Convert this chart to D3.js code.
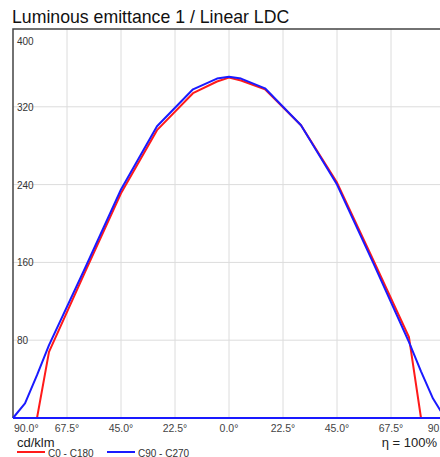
<!DOCTYPE html>
<html>
<head>
<meta charset="utf-8">
<script src="https://cdn.jsdelivr.net/npm/d3@7"></script>
<style>
  html, body { margin: 0; padding: 0; background: #fff; overflow: hidden; }
  svg { display: block; font-family: "Liberation Sans", Arial, sans-serif; }
</style>
</head>
<body>
<div id="chart"></div>
<script>
// gamma angles (deg), negative = left half of the diagram
var angles = [-90, -85, -80, -75, -60, -45, -30, -15, -5, 0, 5, 15, 30, 45, 60, 75, 80, 85, 90];
// C0 - C180 (cd/klm)
var c0c180 = [0, 0, 0, 68, 150, 231, 296, 334, 346, 350, 347, 338, 301, 242, 163, 83, 0, 0, 0];
// C90 - C270 (cd/klm)
var c90c270 = [0, 15, 44, 75, 154, 235, 300, 338, 349, 351, 349, 339, 301, 240, 160, 78, 48, 20, 0];

var xTicks = [-90, -67.5, -45, -22.5, 0, 22.5, 45, 67.5, 90];
var yTicks = [80, 160, 240, 320, 400];

var width = 440, height = 457;
var margin = {top: 29, left: 13, right: 445, bottom: 418};

var svg = d3.select("#chart").append("svg")
    .attr("width", width)
    .attr("height", height);

var x = d3.scaleLinear().domain([-90, 90]).range([margin.left, margin.right]);
var y = d3.scaleLinear().domain([0, 400]).range([margin.bottom, margin.top]);

// title
svg.append("text")
    .attr("x", 12)
    .attr("y", 23)
    .attr("font-size", 17.7)
    .attr("fill", "#111")
    .text("Luminous emittance 1 / Linear LDC");

// grid
svg.append("g").selectAll("line.v")
    .data(xTicks.slice(1))
    .enter().append("line")
    .attr("x1", function(d) { return x(d); })
    .attr("x2", function(d) { return x(d); })
    .attr("y1", margin.top)
    .attr("y2", margin.bottom)
    .attr("stroke", "#dcdcdc")
    .attr("stroke-width", 1);

svg.append("g").selectAll("line.h")
    .data(yTicks.slice(0, -1))
    .enter().append("line")
    .attr("x1", margin.left)
    .attr("x2", width)
    .attr("y1", function(d) { return y(d); })
    .attr("y2", function(d) { return y(d); })
    .attr("stroke", "#dcdcdc")
    .attr("stroke-width", 1);

// frame (left + top)
svg.append("path")
    .attr("d", "M" + margin.left + "," + margin.bottom + "V" + margin.top + "H" + width)
    .attr("fill", "none")
    .attr("stroke", "#444")
    .attr("stroke-width", 1.5);

// y tick labels, inside the plot
svg.append("g").selectAll("text")
    .data(yTicks)
    .enter().append("text")
    .attr("x", 17)
    .attr("y", function(d) { return d === 400 ? y(d) + 16 : y(d) + 4; })
    .attr("font-size", 10)
    .attr("fill", "#333")
    .text(function(d) { return d; });

// curves
var line = d3.line()
    .x(function(d) { return x(d[0]); })
    .y(function(d) { return y(d[1]); });

function drawSeries(vals, color) {
    // zero baseline of the series along the whole axis
    svg.append("line")
        .attr("x1", margin.left)
        .attr("x2", width)
        .attr("y1", y(0))
        .attr("y2", y(0))
        .attr("stroke", color)
        .attr("stroke-width", 2);
    svg.append("path")
        .datum(angles.map(function(a, i) { return [a, vals[i]]; }))
        .attr("d", line)
        .attr("fill", "none")
        .attr("stroke", color)
        .attr("stroke-width", 2)
        .attr("stroke-linejoin", "round");
}
drawSeries(c0c180, "#ff1a1a");
drawSeries(c90c270, "#1a1aff");

// x tick labels
svg.append("g").selectAll("text")
    .data(xTicks)
    .enter().append("text")
    .attr("x", function(d, i) { return i === 0 ? margin.left + 1 : (i === xTicks.length - 1 ? 440 : x(d)); })
    .attr("y", 432)
    .attr("text-anchor", function(d, i) { return i === 0 ? "start" : "middle"; })
    .attr("font-size", 10.5)
    .attr("fill", "#444")
    .text(function(d) { return Math.abs(d).toFixed(1) + "°"; });

svg.append("text")
    .attr("x", 17)
    .attr("y", 447)
    .attr("font-size", 13)
    .attr("fill", "#222")
    .text("cd/klm");

svg.append("text")
    .attr("x", 437)
    .attr("y", 447)
    .attr("text-anchor", "end")
    .attr("font-size", 13)
    .attr("fill", "#222")
    .text("η = 100%");

// legend
var legend = [
    {name: "C0 - C180", color: "#ff1a1a", x: 17},
    {name: "C90 - C270", color: "#1a1aff", x: 107}
];
var lg = svg.append("g").selectAll("g")
    .data(legend)
    .enter().append("g");
lg.append("line")
    .attr("x1", function(d) { return d.x; })
    .attr("x2", function(d) { return d.x + 28; })
    .attr("y1", 452)
    .attr("y2", 452)
    .attr("stroke", function(d) { return d.color; })
    .attr("stroke-width", 2);
lg.append("text")
    .attr("x", function(d) { return d.x + 31; })
    .attr("y", 457)
    .attr("font-size", 10)
    .attr("fill", "#333")
    .text(function(d) { return d.name; });
</script>
</body>
</html>
